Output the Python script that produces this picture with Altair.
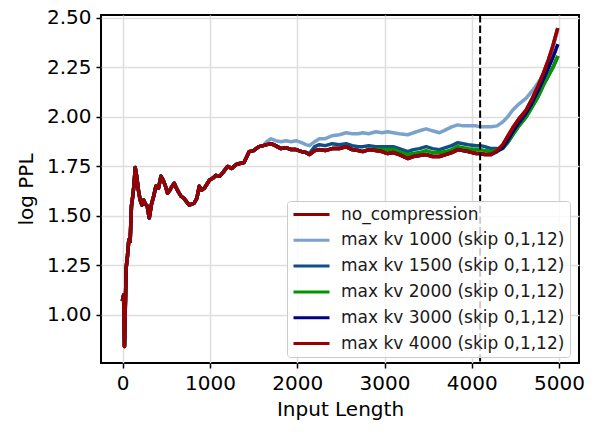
import altair as alt
import pandas as pd

# shared early segment (all settings coincide)
x_early = [0, 10, 20, 30, 40, 55, 70, 85, 100, 115, 130, 143, 160, 180, 200, 220, 240, 260,
           280, 304, 330, 355, 380, 410, 438, 465, 490, 514, 540, 565, 590, 615, 640, 667,
           700, 735, 763, 790, 820, 850, 877, 905, 935, 965, 992, 1030, 1069, 1110, 1150,
           1200, 1250, 1300, 1340, 1390, 1450, 1500, 1560, 1610]
y_early = [1.08, 1.10, 0.84, 1.05, 1.24, 1.30, 1.38, 1.37, 1.55, 1.60, 1.66, 1.745, 1.70,
           1.63, 1.58, 1.555, 1.58, 1.56, 1.55, 1.49, 1.56, 1.60, 1.65, 1.64, 1.70, 1.68,
           1.65, 1.615, 1.63, 1.65, 1.665, 1.64, 1.62, 1.60, 1.59, 1.57, 1.555, 1.56, 1.565,
           1.59, 1.65, 1.63, 1.64, 1.66, 1.68, 1.69, 1.705, 1.70, 1.72, 1.75, 1.74, 1.76,
           1.765, 1.77, 1.825, 1.83, 1.85, 1.855]

x_late = [1650, 1700, 1750, 1814, 1870, 1930, 1986, 2050, 2100, 2139, 2200, 2253, 2320, 2400,
          2483, 2560, 2630, 2700, 2750, 2820, 2900, 2970, 3037, 3100, 3170, 3266, 3330, 3400,
          3477, 3550, 3630, 3700, 3770, 3840, 3900, 3960, 4050, 4100, 4150, 4222, 4290, 4356,
          4410, 4470, 4540, 4624, 4690, 4757, 4820, 4880, 4930, 4980]

y_nocomp = [1.86, 1.865, 1.855, 1.84, 1.845, 1.835, 1.835, 1.825, 1.82, 1.81, 1.83, 1.835,
            1.83, 1.84, 1.84, 1.85, 1.835, 1.83, 1.825, 1.835, 1.83, 1.825, 1.815, 1.82, 1.81,
            1.79, 1.80, 1.805, 1.81, 1.80, 1.80, 1.81, 1.82, 1.835, 1.83, 1.825, 1.815, 1.815,
            1.81, 1.81, 1.83, 1.86, 1.90, 1.945, 1.99, 2.035, 2.09, 2.155, 2.22, 2.29, 2.36, 2.44]
y_kv1000 = [1.875, 1.89, 1.88, 1.875, 1.88, 1.875, 1.88, 1.87, 1.86, 1.855, 1.875, 1.89,
            1.89, 1.905, 1.91, 1.92, 1.915, 1.915, 1.92, 1.915, 1.925, 1.92, 1.925, 1.92, 1.915,
            1.91, 1.92, 1.93, 1.94, 1.93, 1.92, 1.935, 1.95, 1.96, 1.955, 1.955, 1.955, 1.95,
            1.95, 1.95, 1.955, 1.975, 2.00, 2.035, 2.065, 2.095, 2.13, 2.17, 2.215, 2.285, 2.355, 2.43]
y_kv1500 = [1.86, 1.865, 1.855, 1.84, 1.845, 1.835, 1.835, 1.825, 1.82, 1.815, 1.85, 1.86,
            1.855, 1.865, 1.86, 1.865, 1.855, 1.85, 1.85, 1.855, 1.85, 1.85, 1.85, 1.85, 1.84,
            1.825, 1.835, 1.84, 1.85, 1.84, 1.835, 1.845, 1.855, 1.87, 1.865, 1.86, 1.855, 1.855,
            1.85, 1.84, 1.84, 1.845, 1.87, 1.91, 1.955, 2.00, 2.05, 2.10, 2.16, 2.21, 2.25, 2.30]
y_kv2000 = [1.86, 1.865, 1.855, 1.84, 1.845, 1.835, 1.835, 1.825, 1.82, 1.81, 1.83, 1.835,
            1.83, 1.84, 1.84, 1.85, 1.835, 1.83, 1.825, 1.835, 1.835, 1.835, 1.835, 1.835, 1.825,
            1.81, 1.815, 1.82, 1.83, 1.82, 1.82, 1.825, 1.835, 1.85, 1.845, 1.84, 1.835, 1.835,
            1.83, 1.825, 1.83, 1.84, 1.87, 1.91, 1.955, 2.00, 2.05, 2.10, 2.16, 2.21, 2.25, 2.30]
y_kv3000 = [1.86, 1.865, 1.855, 1.84, 1.845, 1.835, 1.835, 1.825, 1.82, 1.81, 1.83, 1.835,
            1.83, 1.84, 1.84, 1.85, 1.835, 1.83, 1.825, 1.835, 1.83, 1.825, 1.815, 1.82, 1.81,
            1.79, 1.80, 1.805, 1.81, 1.80, 1.80, 1.81, 1.82, 1.835, 1.83, 1.825, 1.815, 1.815,
            1.81, 1.81, 1.825, 1.845, 1.88, 1.925, 1.97, 2.02, 2.07, 2.13, 2.19, 2.25, 2.30, 2.36]
y_kv4000 = list(y_nocomp)

series_names = ["no_compression", "max kv 1000 (skip 0,1,12)", "max kv 1500 (skip 0,1,12)",
                "max kv 2000 (skip 0,1,12)", "max kv 3000 (skip 0,1,12)",
                "max kv 4000 (skip 0,1,12)"]
series_colors = ["#8b0000", "#7aa2cc", "#114e86", "#009600", "#000080", "#990000"]
late_values = [y_nocomp, y_kv1000, y_kv1500, y_kv2000, y_kv3000, y_kv4000]

vline_x = [4096]
x_ticks = [0, 1000, 2000, 3000, 4000, 5000]
y_ticks = [1.00, 1.25, 1.50, 1.75, 2.00, 2.25, 2.50]

rows = []
for name, late in zip(series_names, late_values):
    for xv, yv in zip(x_early + x_late, y_early + late):
        rows.append({"series": name, "x": xv, "y": yv})
df = pd.DataFrame(rows)

FONT = "DejaVu Sans"
xs = alt.Scale(domain=[-249, 5229], nice=False, zero=False)
ys = alt.Scale(domain=[0.757, 2.515], nice=False, zero=False)
cs = alt.Scale(domain=series_names, range=series_colors)

legend = alt.Legend(
    title=None, orient="none", legendX=186, legendY=186,
    symbolType="stroke", symbolSize=1296, symbolStrokeWidth=3,
    clipHeight=17, rowPadding=7.8, labelOffset=10, padding=5, labelLimit=400,
    labelFont=FONT, labelFontSize=17, labelColor="#1a1a1a",
    fillColor="rgba(255,255,255,0.8)", strokeColor="#cccccc", cornerRadius=3,
)

layers = []
for i, name in enumerate(series_names):
    layers.append(
        alt.Chart(df).transform_filter(alt.datum.series == name).mark_line(
            strokeWidth=3.5, strokeJoin="round", strokeCap="square"
        ).encode(
            x=alt.X("x:Q", scale=xs,
                    axis=alt.Axis(values=x_ticks, title="Input Length", format="d")),
            y=alt.Y("y:Q", scale=ys,
                    axis=alt.Axis(values=y_ticks, title="log PPL", format=".2f")),
            color=alt.Color("series:N", scale=cs, legend=legend, sort=series_names),
        )
    )

rule = alt.Chart(pd.DataFrame({"x": vline_x})).mark_rule(
    color="black", strokeWidth=2, strokeDash=[7.4, 3.2]
).encode(x=alt.X("x:Q", scale=xs))

chart = alt.layer(*layers, rule).properties(
    width=478, height=348,
    autosize=alt.AutoSizeParams(type="none"),
    padding={"left": 101, "top": 15, "right": 19, "bottom": 69},
    background="white",
).configure_view(
    stroke="black", strokeWidth=2
).configure_axis(
    domain=False, grid=True, gridColor="#dedede", gridWidth=1.5,
    ticks=True, tickColor="black", tickWidth=1.5, tickSize=5,
    labelFont=FONT, labelFontSize=20, labelColor="black", labelPadding=5,
    titleFont=FONT, titleFontSize=20, titleFontWeight="normal", titleColor="black",
).configure_axisX(titlePadding=6).configure_axisY(titlePadding=10)

chart.save("out.html", embed_options={"renderer": "svg", "actions": False})
